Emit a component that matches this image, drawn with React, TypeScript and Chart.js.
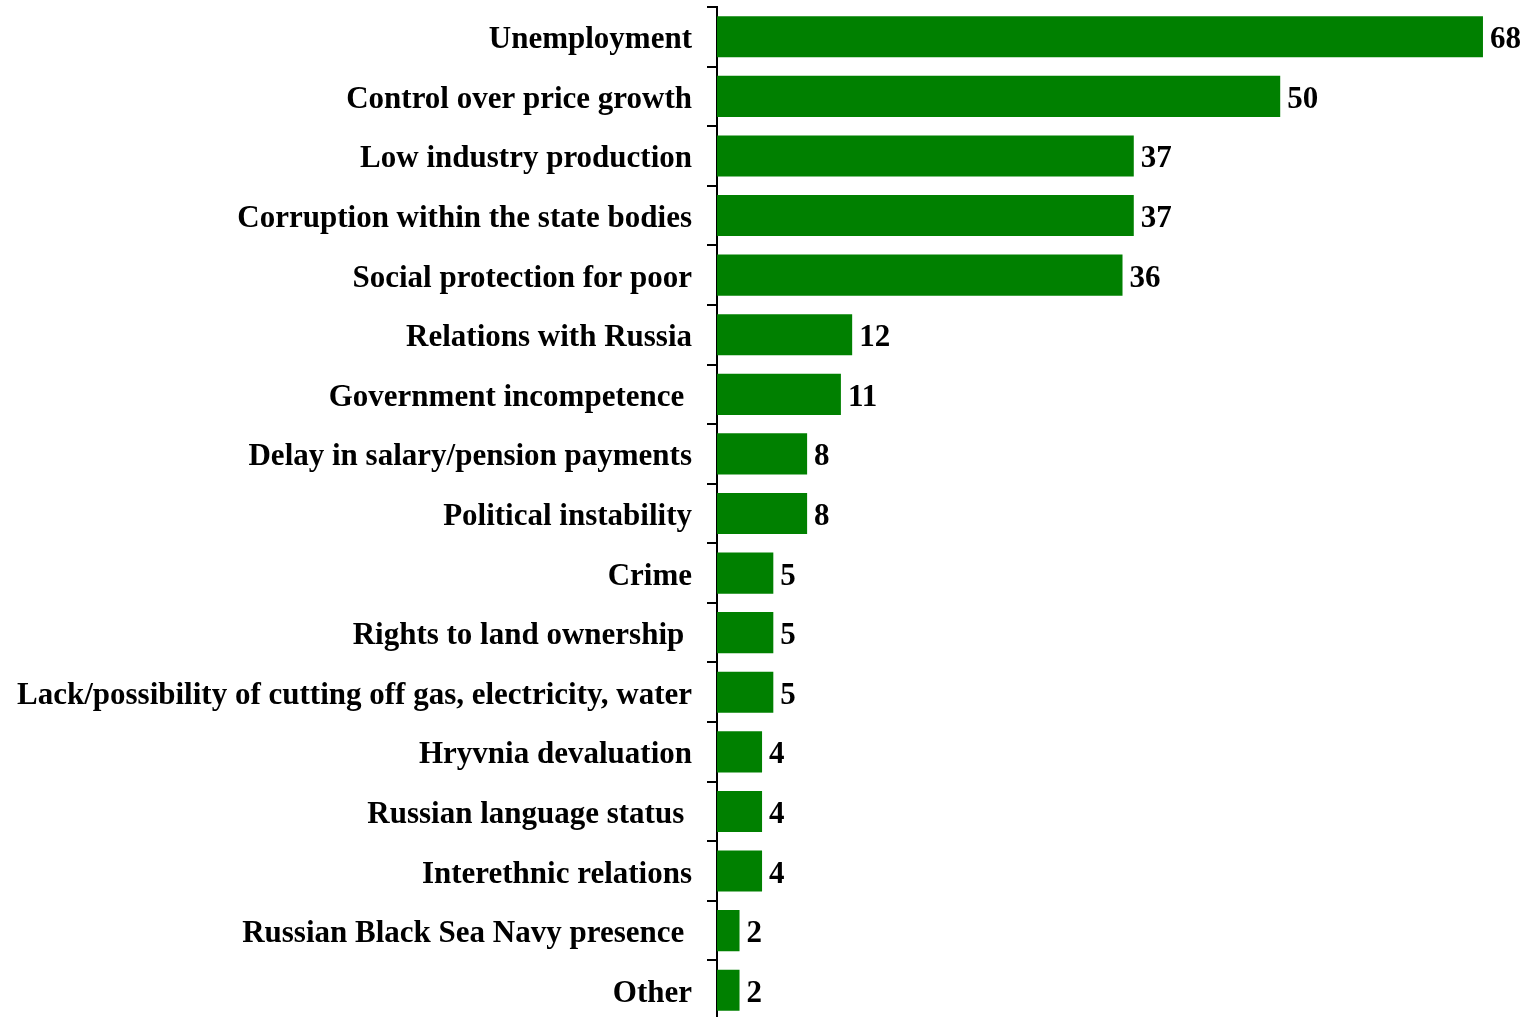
import React, { useEffect, useRef } from "react";
import { Chart, registerables } from "chart.js";

Chart.register(...registerables);

const categories: string[] = [
  "Unemployment",
  "Control over price growth",
  "Low industry production",
  "Corruption within the state bodies",
  "Social protection for poor",
  "Relations with Russia",
  "Government incompetence ",
  "Delay in salary/pension payments",
  "Political instability",
  "Crime",
  "Rights to land ownership ",
  "Lack/possibility of cutting off gas, electricity, water",
  "Hryvnia devaluation",
  "Russian language status ",
  "Interethnic relations",
  "Russian Black Sea Navy presence ",
  "Other",
];

const values: number[] = [68, 50, 37, 37, 36, 12, 11, 8, 8, 5, 5, 5, 4, 4, 4, 2, 2];

const FONT_FAMILY = "'Liberation Serif', 'Times New Roman', serif";

const valueLabels = {
  id: "valueLabels",
  afterDatasetsDraw(chart: any) {
    const ctx = chart.ctx;
    const meta = chart.getDatasetMeta(0);
    ctx.save();
    ctx.font = `bold 31px ${FONT_FAMILY}`;
    ctx.fillStyle = "#000";
    ctx.textAlign = "left";
    ctx.textBaseline = "middle";
    meta.data.forEach((bar: any, i: number) => {
      ctx.fillText(String(values[i]), bar.x + 7, bar.y + 3.5);
    });
    ctx.restore();
  },
};

export default function App() {
  const ref = useRef<HTMLCanvasElement | null>(null);
  useEffect(() => {
    if (!ref.current) return;
    const chart = new Chart(ref.current, {
      type: "bar",
      data: {
        labels: categories,
        datasets: [
          {
            data: values,
            backgroundColor: "#008000",
            borderWidth: 0,
            barPercentage: 0.69,
            categoryPercentage: 1,
          },
        ],
      },
      options: {
        indexAxis: "y",
        animation: false,
        responsive: false,
        maintainAspectRatio: false,
        layout: { padding: { top: 7, bottom: 0, left: 0, right: 23.5 } },
        plugins: {
          legend: { display: false },
          tooltip: { enabled: false },
        },
        scales: {
          x: {
            display: false,
            min: 0,
            max: 70,
          },
          y: {
            afterFit: (scale: any) => {
              scale.width = 717;
              scale.paddingTop = 0;
              scale.paddingBottom = 0;
            },
            grid: {
              display: true,
              drawOnChartArea: false,
              drawTicks: true,
              tickLength: 10,
              color: "#000",
              lineWidth: 2,
              offset: true,
            },
            border: { display: true, color: "#000", width: 2 },
            ticks: {
              color: "#000",
              autoSkip: false,
              padding: 15,
              labelOffset: 3.5,
              font: { family: FONT_FAMILY, size: 31, weight: "bold" },
            },
          },
        },
      },
      plugins: [valueLabels],
    });
    return () => chart.destroy();
  }, []);
  return (
    <div style={{ position: "fixed", top: 0, left: 0, width: 1529, height: 1020, background: "#fff" }}>
      <canvas ref={ref} width={1529} height={1020} style={{ display: "block" }} />
    </div>
  );
}
